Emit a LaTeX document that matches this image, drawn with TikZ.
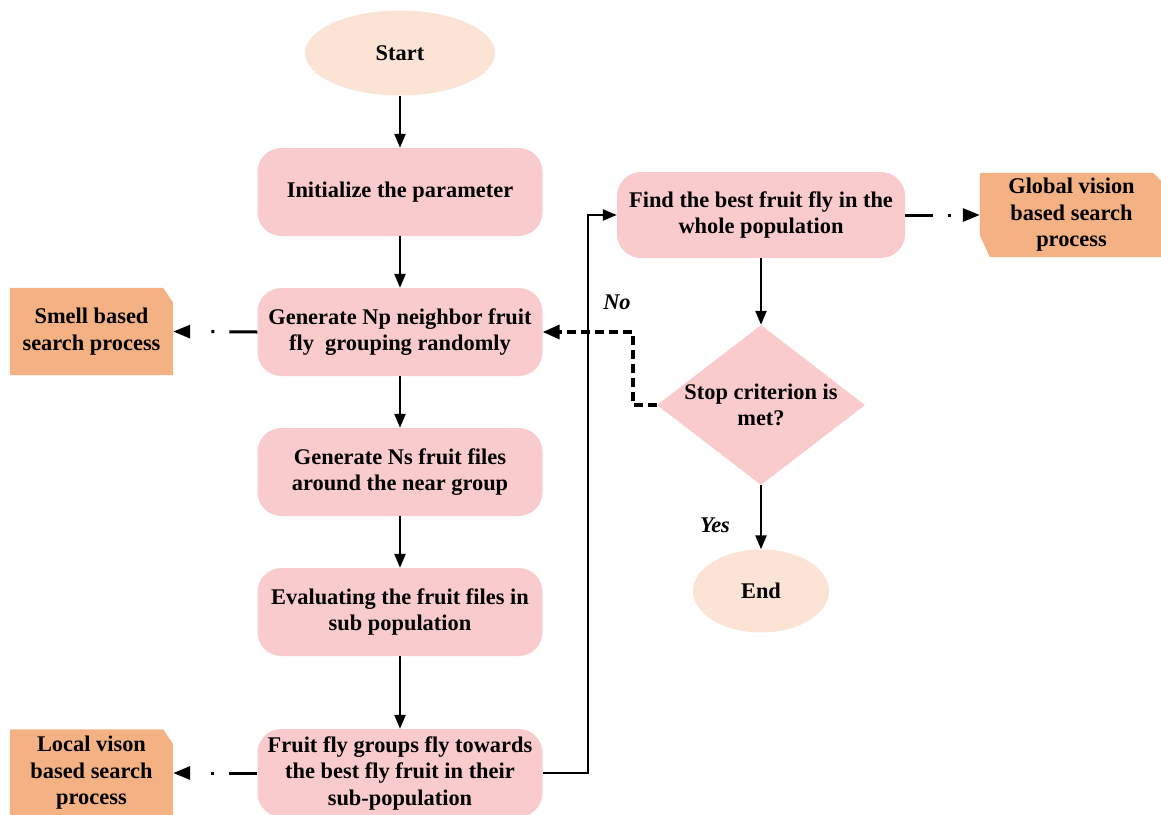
\documentclass[tikz,border=0pt]{standalone}
\usepackage{fontspec}
\setmainfont{Liberation Serif}
\usetikzlibrary{shapes.geometric,arrows.meta,backgrounds,calc}
\definecolor{boxpink}{RGB}{249,203,204}
\definecolor{termpeach}{RGB}{251,228,213}
\definecolor{sideorange}{RGB}{244,177,131}
\begin{document}
\begin{tikzpicture}[x=1pt,y=-1pt,
  font=\fontsize{22.4}{26.5}\selectfont\bfseries,
  proc/.style={rectangle, rounded corners=24pt, fill=boxpink, minimum width=285pt, minimum height=88pt, align=center, inner sep=0pt},
  term/.style={ellipse, fill=termpeach, inner sep=0pt},
  sidebox/.style={rectangle, minimum width=163pt, minimum height=87pt, align=center, inner sep=0pt},
  decision/.style={diamond, fill=boxpink, inner sep=-12pt, minimum width=208pt, minimum height=160pt, align=center},
  arr/.style={line width=2.3pt, -{Triangle[length=14pt,width=11pt]}},
  dotarr/.style={line width=3pt, dash pattern=on 28pt off 15pt on 3pt off 60pt, -{Triangle[length=17pt,width=13pt]}},
  noarr/.style={line width=3.5pt, dash pattern=on 9pt off 5pt, -{Triangle[length=17pt,width=14pt]}},
  lbl/.style={font=\fontsize{22.4}{26.5}\selectfont\bfseries\itshape}
]
\useasboundingbox (0,0) rectangle (1161,814);

% main column
\node[term, minimum width=190pt, minimum height=85pt] (start) at (400,53) {Start};
\node[proc] (init) at (400,192) {Initialize the parameter};
\node[proc] (gen) at (400,332) {Generate Np neighbor fruit\\fly\ \ grouping randomly};
\node[proc] (gens) at (400,472) {Generate Ns fruit files\\around the near group};
\node[proc] (eval) at (400,612) {Evaluating the fruit files in\\sub population};
\node[proc] (fly) at (400,773) {Fruit fly groups fly towards\\the best fly fruit in their\\sub-population};

% right column
\node[proc, minimum width=288pt, minimum height=86pt] (find) at (761,215) {Find the best fruit fly in the\\whole population};
\node[decision] (stop) at (761,405) {Stop criterion is\\met?};
\node[term, minimum width=136pt, minimum height=83pt] (end) at (761,591) {End};

% side boxes
\node[sidebox] (smell) at (91.5,331.5) {Smell based\\search process};
\node[sidebox] (local) at (91.5,773) {Local vison\\based search\\process};
\node[sidebox, minimum width=183pt, minimum height=84pt] (global) at (1071.5,215) {Global vision\\based search\\process};

\begin{scope}[on background layer]
\fill[sideorange] (smell.south west) -- (smell.north west) -- ([xshift=-10pt]smell.north east)
   -- ([yshift=-15pt]smell.north east) -- (smell.south east) -- cycle;
\fill[sideorange] (local.south west) -- (local.north west) -- ([xshift=-10pt]local.north east)
   -- ([yshift=-15pt]local.north east) -- (local.south east) -- cycle;
\fill[sideorange] (global.north west) -- ([xshift=-10pt]global.north east) -- ([yshift=-10pt]global.north east)
   -- (global.south east) -- ([xshift=10pt]global.south west) -- ([yshift=22pt]global.south west) -- cycle;
\end{scope}

% labels
\node[lbl] (no) at (617,302) {No};
\node[lbl] (yes) at (715,525) {Yes};

% helper coordinates
\coordinate (loopx) at (588,0);
\coordinate (nox) at (633,0);

% connectors
\draw[arr] (start.south) -- (init.north);
\draw[arr] (init.south) -- (gen.north);
\draw[arr] (gen.south) -- (gens.north);
\draw[arr] (gens.south) -- (eval.north);
\draw[arr] (eval.south) -- (fly.north);
\draw[arr] (fly.east) -- (fly.east -| loopx) |- (find.west);
\draw[arr] (find.south) -- (stop.north);
\draw[arr] (stop.south) -- (end.north);
\draw[noarr] (stop.west) -| (nox |- gen.east) -- (gen.east);
\draw[dotarr] (gen.west) -- (smell.east);
\draw[dotarr] (fly.west) -- (local.east);
\draw[dotarr] (find.east) -- (global.west);
\end{tikzpicture}
\end{document}
